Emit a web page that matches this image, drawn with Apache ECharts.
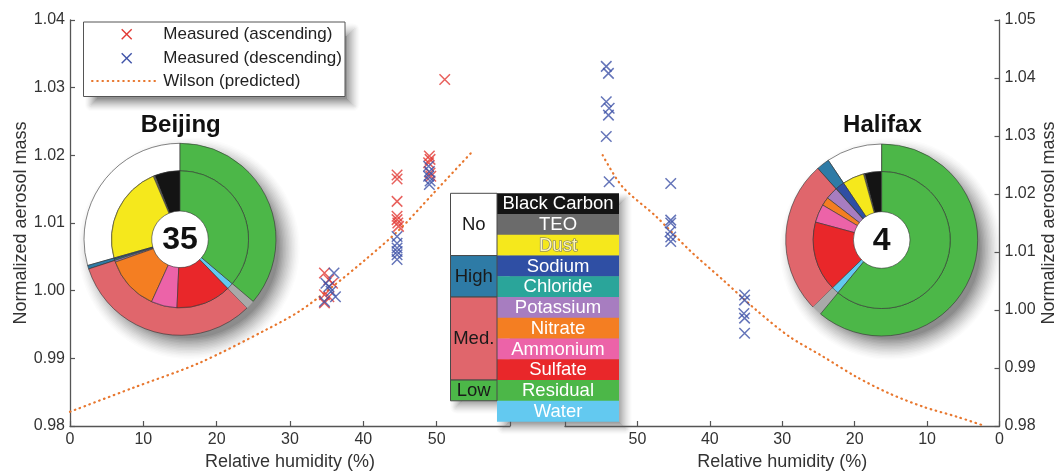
<!DOCTYPE html>
<html>
<head>
<meta charset="utf-8">
<script src="https://cdn.jsdelivr.net/npm/echarts@6/dist/echarts.min.js"></script>
<style>
  html, body { margin: 0; padding: 0; background: #ffffff; }
  #chart { width: 1058px; height: 472px; background: #ffffff; }
</style>
</head>
<body>
<div id="chart"></div>
<script>
// ---- data -------------------------------------------------------------
// [relative humidity %, normalized aerosol mass]
const beijingAscending = [
  [34.7, 1.0026], [35.3, 1.0016], [35.8, 1.0011], [34.7, 0.9994], [35.3, 0.9991], [34.7, 0.9982],
  [44.6, 1.0171], [44.6, 1.0165], [44.6, 1.0132], [44.6, 1.0110], [44.6, 1.0105], [44.7, 1.0100], [44.8, 1.0095],
  [49.0, 1.0199], [49.1, 1.0194], [48.9, 1.0189], [49.1, 1.0174], [49.2, 1.0169],
  [51.1, 1.0312]
];
const beijingDescending = [
  [36.0, 1.0026], [34.9, 1.0011], [35.3, 1.0006], [36.2, 0.9991], [34.7, 0.9984], [35.6, 0.9999],
  [44.6, 1.0080], [44.6, 1.0070], [44.6, 1.0063], [44.6, 1.0058], [44.6, 1.0053], [44.6, 1.0046],
  [48.9, 1.0184], [49.0, 1.0176], [48.9, 1.0169], [49.1, 1.0162], [49.0, 1.0157]
];
const halifaxDescending = [
  [54.3, 1.0420], [54.0, 1.0408], [54.3, 1.0359], [53.9, 1.0348], [54.0, 1.0336], [54.3, 1.0299], [53.9, 1.0221],
  [45.4, 1.0218], [45.4, 1.0155], [45.4, 1.0150], [45.5, 1.0135], [45.4, 1.0126], [45.4, 1.0118],
  [35.2, 1.0026], [35.2, 1.0017], [35.3, 0.9994], [35.2, 0.9986], [35.2, 0.9960]
];
const beijingWilson = [
  [0, 0.9821], [8.5, 0.9856], [17.6, 0.9893], [26.7, 0.9942], [31.2, 0.9969], [35.8, 1.0006],
  [40.3, 1.0046], [44.9, 1.0090], [49.4, 1.0142], [54.9, 1.0206]
];
const halifaxWilson = [
  [54.8, 1.0267], [52.1, 1.0213], [47.4, 1.0161], [42.8, 1.0103], [38.2, 1.0052], [33.6, 1.0000],
  [29.0, 0.9954], [24.4, 0.9920], [19.8, 0.9885], [15.2, 0.9856], [10.5, 0.9833], [5.9, 0.9816], [2.5, 0.9802]
];

// aerosol species, their colours and each site's mass share (%)
const species = ['Black Carbon', 'TEO', 'Dust', 'Sodium', 'Chloride', 'Potassium',
                 'Nitrate', 'Ammonium', 'Sulfate', 'Residual', 'Water'];
const speciesColors = ['#141414', '#6b6b6b', '#f5e81c', '#2f4fa4', '#2aa59a', '#a77dc0',
                       '#f47e22', '#ec63a8', '#e9272a', '#4cb748', '#63c9f0'];
const beijingShares = [6.0, 0.4, 23.0, 0.3, 0.3, 0.4, 12.8, 6.1, 13.0, 36.2, 1.5];
const halifaxShares = [4.0, 0.3, 5.1, 2.1, 0.1, 2.9, 2.0, 4.3, 16.5, 61.0, 1.7];

// hygroscopicity classes: label, colour, number of species rows covered
const hygroClasses = ['No', 'High', 'Med.', 'Low'];
const hygroColors = ['#ffffff', '#2e7ba6', '#e0666c', '#4cb748'];
const hygroSpan = [3, 2, 4, 1];

const sites = ['Beijing', 'Halifax'];
const siteCounts = ['35', '4'];

// ---- helpers ----------------------------------------------------------
const FONT = '"Liberation Sans", Arial, Helvetica, sans-serif';
const RED = '#e23a35';
const BLUE = '#3f53a8';
const ORANGE = '#e8772e';
const CROSS = 'path://M0,0L10,10M10,0L0,10';

// pie order counter-clockwise from 12 o'clock: water sits just before residual
const pieOrder = [0, 1, 2, 3, 4, 5, 6, 7, 8, 10, 9];
const PIE_R = [28.3, 68.5, 96];
const pieCenters = [[180, 239.3], [881.7, 240]];

// grey level for a soft shadow layer, t = 0 (outer rim) .. 1 (core)
function shade(t, core) {
  const g = Math.round(255 - (255 - core) * Math.pow(t, 1.4));
  return 'rgb(' + g + ',' + g + ',' + g + ')';
}

const pieBase = {
  type: 'pie', startAngle: 90, clockwise: false,
  silent: true, label: { show: false }, labelLine: { show: false },
  emphasis: { disabled: true }, avoidLabelOverlap: false, minAngle: 0
};

// soft drop shadow under a pie: separate opaque rings, light rim to darker core
function pieShadow(center) {
  const out = [];
  const c = [center[0] + 9, center[1] + 9];
  const steps = 15, step = 1.5, outerR = PIE_R[2] + 14;
  for (let k = 0; k < steps; k++) {
    const r1 = outerR - k * step;
    const r0 = k === steps - 1 ? 0 : r1 - step;
    const col = shade((k + 1) / steps, 140);
    out.push(Object.assign({}, pieBase, {
      z: 1, center: c, radius: [r0, r1],
      data: [{ value: 1, itemStyle: { color: col, borderColor: col, borderWidth: 1.6 } }]
    }));
  }
  return out;
}

function pieSeries(shares, center) {
  const inner = pieOrder.map(i => ({
    name: species[i], value: shares[i], itemStyle: { color: speciesColors[i] }
  }));
  const sum = (a, b) => shares.slice(a, b).reduce((s, v) => s + v, 0);
  const outerVals = [sum(0, 3), sum(3, 5), sum(5, 9), shares[10], shares[9]];
  const outerCols = [hygroColors[0], hygroColors[1], hygroColors[2], '#a9a9a9', hygroColors[3]];
  const outer = outerVals.map((v, k) => ({
    value: v,
    itemStyle: k === 3 ? { color: outerCols[k], borderWidth: 0 } : { color: outerCols[k] }
  }));
  return [
    Object.assign({}, pieBase, {
      z: 2, center: center, radius: [0, PIE_R[1]],
      data: [{ value: 1, itemStyle: { color: '#ffffff', borderColor: '#ffffff', borderWidth: 0.5 } }]
    }),
    Object.assign({}, pieBase, {
      z: 3, center: center, radius: [PIE_R[1], PIE_R[2]], data: outer,
      itemStyle: { borderColor: '#333', borderWidth: 0.6 }
    }),
    Object.assign({}, pieBase, {
      z: 3, center: center, radius: [PIE_R[0], PIE_R[1]], data: inner,
      itemStyle: { borderColor: '#333', borderWidth: 0.6 }
    })
  ];
}

// soft drop shadow behind a box: concentric outlines (order independent) around a dark core
function boxShadow(x, y, w, h, z, off, spread, core) {
  const out = [];
  const n = spread * 2 + 1;
  for (let j = 0; j < n; j++) {
    const last = j === n - 1;
    const e = last ? -spread + 0.5 : spread - j;
    const el = {
      type: 'rect', silent: true, z: z,
      shape: { x: x + off - e, y: y + off - e, width: w + 2 * e, height: h + 2 * e, r: Math.max(e, 0) },
      style: last
        ? { fill: shade(1, core) }
        : { fill: 'none', stroke: shade((j + 1) / n, core), lineWidth: 1.15 }
    };
    out.push(el);
  }
  return out;
}

function cross(x, y, color, z) {
  return [
    { type: 'line', z: z, shape: { x1: x - 5, y1: y - 5, x2: x + 5, y2: y + 5 }, style: { stroke: color, lineWidth: 1.4 } },
    { type: 'line', z: z, shape: { x1: x + 5, y1: y - 5, x2: x - 5, y2: y + 5 }, style: { stroke: color, lineWidth: 1.4 } }
  ];
}

// ---- overlays: legend, titles, species table ------------------------------
const overlay = [];
const tabTop = 193.3, rowH = 20.75, leftX = 450.5, leftW = 46.5, rightX = 497, rightW = 122;

// table shadow sits beneath the axes (raised to z 3)
overlay.push(...boxShadow(rightX, tabTop, rightW, rowH * 11, 1, 6, 6, 150));
overlay.push(...boxShadow(leftX, tabTop, leftW, rowH * 10, 1, 6, 6, 150));

// legend box
overlay.push(...boxShadow(83.5, 22, 261.5, 74.5, 40, 8, 6, 145));
overlay.push({
  type: 'rect', z: 41, shape: { x: 83.5, y: 22, width: 261.5, height: 74.5 },
  style: { fill: '#ffffff', stroke: '#555', lineWidth: 1 }
});
overlay.push(...cross(126.7, 34.3, RED, 42));
overlay.push(...cross(126.7, 58.2, BLUE, 42));
overlay.push({
  type: 'line', z: 42, shape: { x1: 92, y1: 81, x2: 157, y2: 81 },
  style: { stroke: ORANGE, lineWidth: 2, lineDash: [0.6, 4.6], lineCap: 'round' }
});
const legendTexts = ['Measured (ascending)', 'Measured (descending)', 'Wilson (predicted)'];
[34.3, 58.2, 81].forEach((y, k) => overlay.push({
  type: 'text', z: 42, x: 163.3, y: y,
  style: { text: legendTexts[k], fill: '#222', font: '17px ' + FONT, align: 'left', verticalAlign: 'middle' }
}));

// site titles and sample counts
sites.forEach((s, k) => {
  overlay.push({
    type: 'text', z: 30, x: pieCenters[k][0] + 0.7, y: 125,
    style: { text: s, fill: '#111', font: 'bold 24px ' + FONT, align: 'center', verticalAlign: 'middle' }
  });
  overlay.push({
    type: 'text', z: 30, x: pieCenters[k][0], y: pieCenters[k][1] + 1,
    style: { text: siteCounts[k], fill: '#111', font: 'bold 32px ' + FONT, align: 'center', verticalAlign: 'middle' }
  });
});

// species table
species.forEach((name, i) => {
  const y = tabTop + i * rowH;
  overlay.push({
    type: 'rect', z: 31, shape: { x: rightX, y: y, width: rightW, height: rowH + 0.3 },
    style: { fill: speciesColors[i] }
  });
  const isDust = name === 'Dust';
  overlay.push({
    type: 'text', z: 32, x: rightX + rightW / 2, y: y + rowH / 2 + 0.5,
    style: {
      text: name, font: '18.5px ' + FONT, align: 'center', verticalAlign: 'middle',
      fill: isDust ? '#fff7b0' : '#ffffff',
      stroke: isDust ? '#707070' : null, lineWidth: isDust ? 1.2 : 0
    }
  });
});
let rowAt = 0;
hygroClasses.forEach((c, k) => {
  const y = tabTop + rowAt * rowH, h = hygroSpan[k] * rowH;
  overlay.push({
    type: 'rect', z: 33, shape: { x: leftX, y: y, width: leftW, height: h },
    style: { fill: hygroColors[k], stroke: '#4a4a4a', lineWidth: 1 }
  });
  overlay.push({
    type: 'text', z: 34, x: leftX + leftW / 2, y: y + h / 2 + 0.5,
    style: { text: c, fill: '#1a1a1a', font: '18.5px ' + FONT, align: 'center', verticalAlign: 'middle' }
  });
  rowAt += hygroSpan[k];
});

// ---- axes -------------------------------------------------------------
const AXIS = '#555';
function xAx(grid, inverse) {
  return {
    gridIndex: grid, type: 'value', min: 0, max: 60, interval: 10, inverse: inverse, z: 3,
    name: 'Relative humidity (%)', nameLocation: 'middle', nameGap: 27,
    nameTextStyle: { fontSize: 18, color: '#333', fontFamily: FONT },
    axisLine: { show: true, onZero: false, lineStyle: { color: AXIS, width: 1.3 } },
    axisTick: { show: true, inside: true, length: 5, lineStyle: { color: AXIS, width: 1.2 } },
    axisLabel: { fontSize: 16, color: '#333', margin: 6, fontFamily: FONT,
                 formatter: v => (v === 60 ? '' : String(v)) },
    splitLine: { show: false }
  };
}
function yAx(grid, max, pos, gap) {
  return {
    gridIndex: grid, type: 'value', min: 0.98, max: max, interval: 0.01, position: pos, z: 3,
    name: 'Normalized aerosol mass', nameLocation: 'middle', nameGap: gap, nameRotate: 90,
    nameTextStyle: { fontSize: 18, color: '#333', fontFamily: FONT },
    axisLine: { show: true, onZero: false, lineStyle: { color: AXIS, width: 1.3 } },
    axisTick: { show: true, inside: true, length: 5, lineStyle: { color: AXIS, width: 1.2 } },
    axisLabel: { fontSize: 16, color: '#333', margin: 5, fontFamily: FONT,
                 formatter: v => v.toFixed(2) },
    splitLine: { show: false }
  };
}

function scatter(data, color, xi) {
  return {
    type: 'scatter', xAxisIndex: xi, yAxisIndex: xi, data: data, z: 6,
    symbol: CROSS, symbolSize: 10.5, silent: true,
    itemStyle: { color: 'rgba(0,0,0,0)', borderColor: color, borderWidth: 1.5 }
  };
}
function wilson(data, xi) {
  return {
    type: 'line', xAxisIndex: xi, yAxisIndex: xi, data: data, z: 5,
    smooth: 0.3, symbol: 'none', silent: true,
    lineStyle: { color: ORANGE, width: 2.2, type: [0.6, 4.6], cap: 'round' }
  };
}

const chart = echarts.init(document.getElementById('chart'), null, { renderer: 'canvas' });
chart.setOption({
  animation: false,
  textStyle: { fontFamily: FONT },
  grid: [
    { left: 70, top: 20, width: 440, height: 406, containLabel: false, outerBoundsMode: 'none' },
    { left: 565, top: 20, width: 434.5, height: 406, containLabel: false, outerBoundsMode: 'none' }
  ],
  xAxis: [xAx(0, false), xAx(1, true)],
  yAxis: [yAx(0, 1.04, 'left', 38), yAx(1, 1.05, 'right', 36)],
  series: [
    ...pieShadow(pieCenters[0]),
    ...pieShadow(pieCenters[1]),
    wilson(beijingWilson, 0),
    wilson(halifaxWilson, 1),
    scatter(beijingAscending, RED, 0),
    scatter(beijingDescending, BLUE, 0),
    scatter(halifaxDescending, BLUE, 1),
    ...pieSeries(beijingShares, pieCenters[0]),
    ...pieSeries(halifaxShares, pieCenters[1])
  ],
  graphic: overlay
});
</script>
</body>
</html>
